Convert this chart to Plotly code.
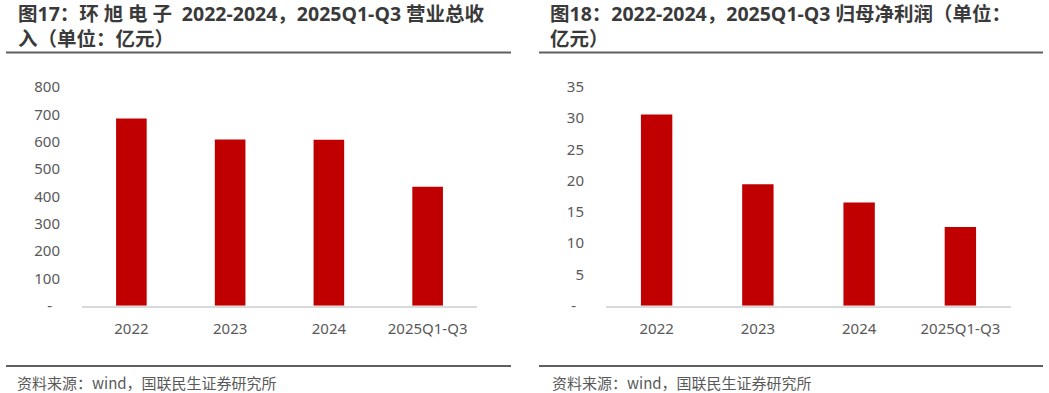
import plotly.graph_objects as go

categories = ["2022", "2023", "2024", "2025Q1-Q3"]
revenue = [685, 608, 607, 435]          # 营业总收入（亿元）
net_profit = [30.6, 19.45, 16.5, 12.6]  # 归母净利润（亿元）

rev_ticks = [0, 100, 200, 300, 400, 500, 600, 700, 800]
rev_ticktext = ["-\u00a0\u00a0"] + [str(v) for v in rev_ticks[1:]]
np_ticks = [0, 5, 10, 15, 20, 25, 30, 35]
np_ticktext = ["-\u00a0\u00a0"] + [str(v) for v in np_ticks[1:]]

title_left = ["图17：环\u2005旭\u2005电\u2005子\u2005 2022-2024，2025Q1-Q3 营业总收", "入（单位：亿元）"]
title_right = ["图18：2022-2024，2025Q1-Q3 归母净利润（单位：", "亿元）"]
source = "资料来源：wind，国联民生证券研究所"

W, H = 1049, 393
BAR = "#C00000"
GRAY = "#595959"
TFONT = "Open Sans, Noto Sans CJK SC"
SFONT = "Noto Sans CJK SC"
AFONT = "Noto Sans"


def px(x):
    return x / W


def py(y):
    return 1 - y / H


fig = go.Figure()
fig.add_trace(go.Bar(x=categories, y=revenue, marker=dict(color=BAR, line=dict(width=0)),
                     xaxis="x", yaxis="y", hoverinfo="x+y"))
fig.add_trace(go.Bar(x=categories, y=net_profit, marker=dict(color=BAR, line=dict(width=0)),
                     xaxis="x2", yaxis="y2", hoverinfo="x+y"))

ydom = [py(305.7), py(87)]
axis_font = dict(family=AFONT, size=15, color=GRAY)

common_x = dict(showline=True, linecolor="#D9D9D9", linewidth=1.5, showgrid=False,
                zeroline=False, ticks="outside", ticklen=9, tickcolor="rgba(0,0,0,0)",
                tickfont=axis_font, type="category", fixedrange=True, automargin=False)
common_y = dict(showline=False, showgrid=False, zeroline=False, ticks="outside",
                ticklen=18, tickcolor="rgba(0,0,0,0)", tickfont=axis_font, fixedrange=True,
                automargin=False)

fig.update_layout(
    template="none",
    width=W, height=H,
    margin=dict(l=0, r=0, t=0, b=0, pad=0, autoexpand=False),
    paper_bgcolor="white", plot_bgcolor="white",
    showlegend=False,
    bargap=0.69,
    xaxis=dict(domain=[px(82), px(477)], anchor="y", **common_x),
    yaxis=dict(domain=ydom, anchor="x", range=[0, 800], tickvals=rev_ticks,
               ticktext=rev_ticktext, **common_y),
    xaxis2=dict(domain=[px(606), px(1011)], anchor="y2", **common_x),
    yaxis2=dict(domain=ydom, anchor="x2", range=[0, 35], tickvals=np_ticks,
                ticktext=np_ticktext, **common_y),
)

title_font = dict(family=TFONT, size=19.5, color="#3A3A3A")
ann = []
for lines, x0 in ((title_left, 17), (title_right, 549)):
    ann.append(dict(text="<b>%s</b>" % "<br>".join(lines), x=px(x0), y=py(26.3),
                    xref="paper", yref="paper", xanchor="left", yanchor="middle",
                    align="left", showarrow=False, font=title_font, borderpad=0))
for x0 in (15, 550):
    ann.append(dict(text=source, x=px(x0), y=py(382), xref="paper", yref="paper",
                    xanchor="left", yanchor="middle", showarrow=False,
                    font=dict(family=SFONT, size=15, color=GRAY)))
fig.update_layout(annotations=ann)

shapes = []
for (x0, x1) in ((6, 511), (539, 1043)):
    for yy in (52.5, 366):
        shapes.append(dict(type="line", xref="paper", yref="paper", x0=px(x0), x1=px(x1),
                           y0=py(yy), y1=py(yy), line=dict(color="#5F5F5F", width=2)))
fig.update_layout(shapes=shapes)

fig.write_html("out.html",
               post_script="document.body.style.margin='0';document.body.style.overflow='hidden';")
